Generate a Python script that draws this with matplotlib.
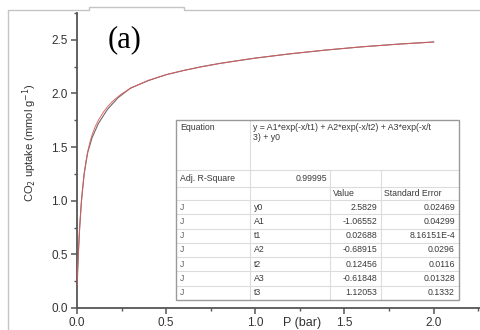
import matplotlib
matplotlib.use("Agg")
import matplotlib.pyplot as plt
from matplotlib.ticker import MultipleLocator
from matplotlib.patches import Rectangle

# ---------------- data ----------------
pressure = [0.0, 0.003, 0.008, 0.015, 0.025, 0.04, 0.06, 0.085, 0.12, 0.17, 0.23,
            0.3, 0.4, 0.5, 0.6, 0.7, 0.8, 0.9, 1.0, 1.2, 1.4, 1.6, 1.8, 2.0]
uptake = [0.03, 0.30, 0.52, 0.75, 1.00, 1.25, 1.45, 1.59, 1.72, 1.85, 1.96,
          2.05, 2.12, 2.175, 2.215, 2.25, 2.28, 2.305, 2.33, 2.37, 2.405, 2.435, 2.46, 2.48]

fit_pressure = [0, 0.003, 0.005, 0.008, 0.01, 0.015, 0.02, 0.025, 0.03, 0.04, 0.05, 0.06,
                0.075, 0.085, 0.1, 0.12, 0.15, 0.17, 0.2, 0.23, 0.25, 0.3, 0.4, 0.5, 0.6,
                0.7, 0.8, 0.9, 1.0, 1.2, 1.4, 1.6, 1.8, 2.0]
fit_uptake = [0.210, 0.340, 0.421, 0.531, 0.599, 0.752, 0.882, 0.994, 1.090, 1.246, 1.364,
              1.457, 1.562, 1.616, 1.683, 1.752, 1.831, 1.874, 1.927, 1.970, 1.996, 2.048,
              2.122, 2.175, 2.215, 2.249, 2.279, 2.305, 2.329, 2.371, 2.406, 2.435, 2.459, 2.479]

xticks = [0.0, 0.5, 1.0, 1.5, 2.0]
yticks = [0.0, 0.5, 1.0, 1.5, 2.0, 2.5]

equation_lines = ["y = A1*exp(-x/t1) + A2*exp(-x/t2) + A3*exp(-x/t", "3) + y0"]
adj_r2 = "0.99995"
row_labels = ["J", "J", "J", "J", "J", "J", "J"]
param_names = ["y0", "A1", "t1", "A2", "t2", "A3", "t3"]
param_values = ["2.5829", "-1.06552", "0.02688", "-0.68915", "0.12456", "-0.61848", "1.12053"]
param_errors = ["0.02469", "0.04299", "8.16151E-4", "0.0296", "0.0116", "0.01328", "0.1332"]

# ---------------- figure ----------------
plt.rcParams['font.family'] = ['Liberation Sans', 'DejaVu Sans']
W, H = 480, 330
fig = plt.figure(figsize=(W / 100, H / 100), dpi=100)
fig.patch.set_facecolor('white')

# overlay in pixel coordinates for frame & table
ov = fig.add_axes([0, 0, 1, 1], zorder=0)
ov.set_xlim(0, W)
ov.set_ylim(H, 0)
ov.axis('off')
ov.patch.set_alpha(0)

frame_c = '#c4c4c4'
ov.plot([8, 8, 89, 89, 184, 184, W], [H, 10, 10, 7, 7, 10, 10], color=frame_c, lw=1.0)

# main axes
ax = fig.add_axes([77 / W, 22 / H, (W - 77) / W, 295 / H], zorder=2)
ax.patch.set_alpha(0)
ax.plot(pressure, uptake, color='#6a6a6a', lw=0.8, zorder=3)
ax.plot(fit_pressure, fit_uptake, color='#e05a5c', lw=0.7, alpha=0.9, zorder=4)

ax.set_xlim(0, 2.26)
ax.set_ylim(0, 2.75)
ax.set_xticks(xticks)
ax.set_yticks(yticks)
ax.set_xticklabels([f"{v:.1f}" for v in xticks])
ax.set_yticklabels([f"{v:.1f}" for v in yticks])
ax.xaxis.set_minor_locator(MultipleLocator(0.25))
ax.yaxis.set_minor_locator(MultipleLocator(0.25))
for s in ['top', 'right']:
    ax.spines[s].set_visible(False)
for s in ['left', 'bottom']:
    ax.spines[s].set_color('#555555')
    ax.spines[s].set_linewidth(1.3)
ax.tick_params(which='major', direction='out', length=4.5, width=1.1, color='#555555',
               labelsize=8.5, labelcolor='#333333', pad=2)
ax.tick_params(which='minor', direction='out', length=2.5, width=1.0, color='#555555')

ax.set_ylabel(r"CO$_2$ uptake (mmol g$^{-1}$)", fontsize=8, color='#333333', va='center')
ax.yaxis.set_label_coords(-0.117, 0.56)
ax.set_xlabel("P (bar)", fontsize=9, color='#333333', va='center')
ax.xaxis.set_label_coords(0.558, -0.052)

# (a) label
ov.text(125, 40, "(a)", fontsize=22, family=['Liberation Serif', 'DejaVu Serif'],
        ha='center', va='center', color='black')

# ---------------- table ----------------
tl, tr, tt, tb = 176, 459, 120, 300
c1, c2, c3 = 250, 330, 381
r_eq, r_adj, r_head = 170, 187, 200
nrows = len(param_names)
rh = (tb - r_head) / nrows
inner = '#dcdcdc'
outer = '#9a9a9a'
ov.add_patch(Rectangle((tl, tt), tr - tl, tb - tt, facecolor='white', edgecolor='none', zorder=1))
# horizontal lines
for y in [r_eq, r_adj, r_head] + [r_head + i * rh for i in range(1, nrows)]:
    ov.plot([tl, tr], [y, y], color=inner, lw=0.8, zorder=2)
# vertical lines
ov.plot([c1, c1], [tt, tb], color=inner, lw=0.8, zorder=2)
ov.plot([c2, c2], [r_eq, tb], color=inner, lw=0.8, zorder=2)
ov.plot([c3, c3], [r_eq, tb], color=inner, lw=0.8, zorder=2)
ov.add_patch(Rectangle((tl, tt), tr - tl, tb - tt, facecolor='none', edgecolor=outer, lw=1.0, zorder=3))

tfs = 6.3
tc = '#3a3a3a'
ov.text(tl + 4, tt + 7, "Equation", fontsize=tfs, color=tc, va='center')
ov.text(c1 + 3, tt + 7, equation_lines[0], fontsize=tfs, color=tc, va='center')
ov.text(c1 + 3, tt + 17, equation_lines[1], fontsize=tfs, color=tc, va='center')
ov.text(tl + 4, (r_eq + r_adj) / 2, "Adj. R-Square", fontsize=tfs, color=tc, va='center')
ov.text(c2 - 3, (r_eq + r_adj) / 2, adj_r2, fontsize=tfs, color=tc, va='center', ha='right')
ov.text(c2 + 3, (r_adj + r_head) / 2 + 0.5, "Value", fontsize=tfs, color=tc, va='center')
ov.text(c3 + 3, (r_adj + r_head) / 2 + 0.5, "Standard Error", fontsize=tfs, color=tc, va='center')
for i in range(nrows):
    yc = r_head + (i + 0.5) * rh
    ov.text(tl + 4, yc, row_labels[i], fontsize=tfs, color='#666666', va='center')
    ov.text(c1 + 4, yc, param_names[i], fontsize=tfs, color=tc, va='center')
    ov.text(c3 - 4, yc, param_values[i], fontsize=tfs, color=tc, va='center', ha='right')
    ov.text(tr - 4, yc, param_errors[i], fontsize=tfs, color=tc, va='center', ha='right')

fig.savefig("out.png", dpi=100)
